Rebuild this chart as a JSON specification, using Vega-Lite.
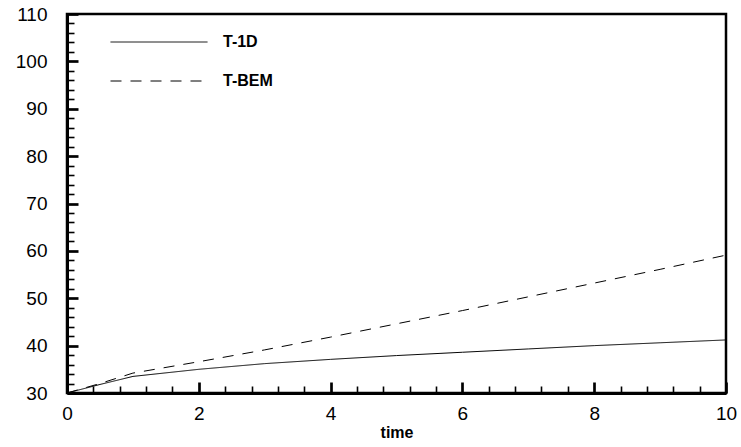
{
  "$schema": "https://vega.github.io/schema/vega-lite/v6.json",
  "width": 659,
  "height": 379,
  "autosize": {"type": "none"},
  "padding": {"left": 67, "top": 14, "right": 15, "bottom": 54},
  "background": "white",
  "config": {
    "view": {"stroke": "black", "strokeWidth": 2.5},
    "font": "Liberation Sans"
  },
  "data": {
    "values": [
      {"time": 0, "T": 30.0, "series": "T-1D"},
      {"time": 0.5, "T": 31.8, "series": "T-1D"},
      {"time": 1, "T": 33.5, "series": "T-1D"},
      {"time": 2, "T": 35.0, "series": "T-1D"},
      {"time": 3, "T": 36.2, "series": "T-1D"},
      {"time": 4, "T": 37.1, "series": "T-1D"},
      {"time": 5, "T": 37.9, "series": "T-1D"},
      {"time": 6, "T": 38.6, "series": "T-1D"},
      {"time": 7, "T": 39.3, "series": "T-1D"},
      {"time": 8, "T": 40.0, "series": "T-1D"},
      {"time": 9, "T": 40.6, "series": "T-1D"},
      {"time": 10, "T": 41.2, "series": "T-1D"},
      {"time": 0, "T": 30.0, "series": "T-BEM"},
      {"time": 0.5, "T": 32.0, "series": "T-BEM"},
      {"time": 1, "T": 34.2, "series": "T-BEM"},
      {"time": 2, "T": 36.6, "series": "T-BEM"},
      {"time": 3, "T": 39.1, "series": "T-BEM"},
      {"time": 4, "T": 41.8, "series": "T-BEM"},
      {"time": 5, "T": 44.6, "series": "T-BEM"},
      {"time": 6, "T": 47.4, "series": "T-BEM"},
      {"time": 7, "T": 50.3, "series": "T-BEM"},
      {"time": 8, "T": 53.2, "series": "T-BEM"},
      {"time": 9, "T": 56.1, "series": "T-BEM"},
      {"time": 10, "T": 59.1, "series": "T-BEM"}
    ]
  },
  "mark": {"type": "line", "color": "black", "strokeWidth": 1},
  "encoding": {
    "x": {
      "field": "time",
      "type": "quantitative",
      "scale": {"domain": [0, 10], "nice": false},
      "axis": {
        "title": "time",
        "titleFontSize": 16,
        "titleFontWeight": "bold",
        "titleColor": "black",
        "titlePadding": -3,
        "values": [0, 0.4, 0.8, 1.2, 1.6, 2, 2.4, 2.8, 3.2, 3.6, 4, 4.4, 4.8, 5.2, 5.6, 6, 6.4, 6.8, 7.2, 7.6, 8, 8.4, 8.8, 9.2, 9.6, 10],
        "labelExpr": "abs(datum.value/2 - round(datum.value/2)) < 0.001 ? format(datum.value, 'd') : ''",
        "labelFontSize": 19,
        "labelColor": "black",
        "labelFlush": false,
        "labelOverlap": false,
        "labelBound": false,
        "labelPadding": 22,
        "grid": false,
        "domainColor": "black",
        "domainWidth": 3,
        "tickColor": "black",
        "tickSize": {"condition": {"test": "abs(datum.value/2 - round(datum.value/2)) < 0.001", "value": -11}, "value": -7},
        "tickWidth": {"condition": {"test": "abs(datum.value/2 - round(datum.value/2)) < 0.001", "value": 2.7}, "value": 1.6}
      }
    },
    "y": {
      "field": "T",
      "type": "quantitative",
      "scale": {"domain": [30, 110], "nice": false},
      "axis": {
        "title": null,
        "values": [30, 32, 34, 36, 38, 40, 42, 44, 46, 48, 50, 52, 54, 56, 58, 60, 62, 64, 66, 68, 70, 72, 74, 76, 78, 80, 82, 84, 86, 88, 90, 92, 94, 96, 98, 100, 102, 104, 106, 108, 110],
        "labelExpr": "datum.value % 10 === 0 ? format(datum.value, 'd') : ''",
        "labelFontSize": 19,
        "labelColor": "black",
        "labelFlush": false,
        "labelOverlap": false,
        "labelBound": false,
        "labelPadding": 31,
        "grid": false,
        "domainColor": "black",
        "domainWidth": 3,
        "tickColor": "black",
        "tickSize": {"condition": {"test": "datum.value % 10 === 0", "value": -11}, "value": -7},
        "tickWidth": {"condition": {"test": "datum.value % 10 === 0", "value": 2.7}, "value": 1.6}
      }
    },
    "strokeDash": {
      "field": "series",
      "type": "nominal",
      "scale": {"domain": ["T-1D", "T-BEM"], "range": [[1, 0], [11, 9]]},
      "legend": {
        "title": null,
        "orient": "none",
        "legendX": 43,
        "legendY": 18,
        "padding": 0,
        "symbolType": "stroke",
        "symbolSize": 9409,
        "symbolStrokeColor": "black",
        "symbolStrokeWidth": 1,
        "clipHeight": 20,
        "rowPadding": 19,
        "labelFont": "Liberation Sans",
        "labelFontWeight": "bold",
        "labelFontSize": 16,
        "labelColor": "black",
        "labelOffset": 15
      }
    }
  }
}
